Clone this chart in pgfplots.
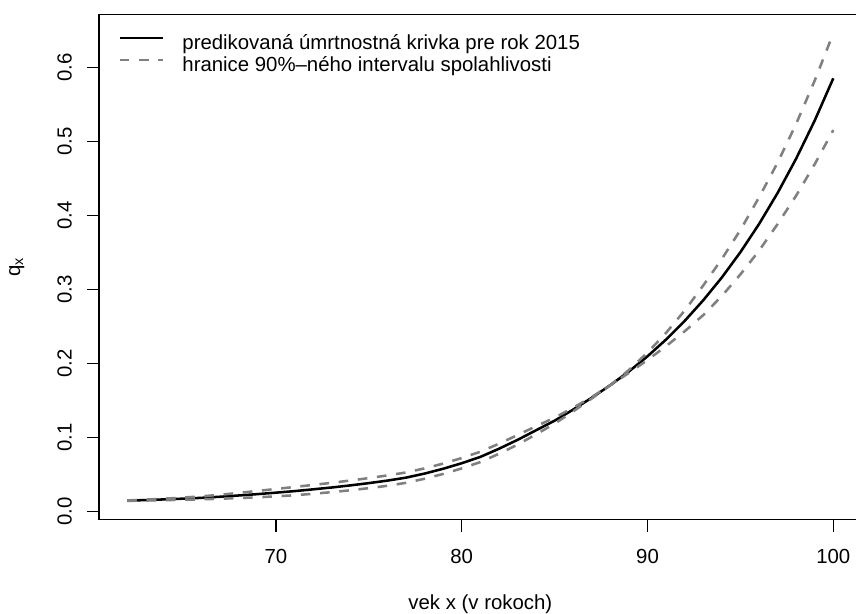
\documentclass[border=0pt]{standalone}
\usepackage{fontspec}
\setmainfont{Liberation Sans}
\usepackage{pgfplots}
\usepackage{pgfplotstable}
\pgfplotsset{compat=1.18}

\pgfplotstableread{
age q up lo
62 0.0149 0.0152 0.0146
63 0.0157 0.0163 0.0151
64 0.0166 0.0176 0.0156
65 0.0176 0.0191 0.0161
66 0.0187 0.0207 0.0167
67 0.0202 0.0229 0.0175
68 0.0219 0.0254 0.0184
69 0.0237 0.0280 0.0194
70 0.0257 0.0307 0.0207
71 0.0278 0.0334 0.0222
72 0.0302 0.0362 0.0242
73 0.0327 0.0390 0.0264
74 0.0355 0.0421 0.0289
75 0.0386 0.0454 0.0318
76 0.0420 0.0490 0.0350
77 0.0460 0.0530 0.0390
78 0.0515 0.0585 0.0445
79 0.0580 0.0650 0.0510
80 0.0655 0.0725 0.0585
81 0.0740 0.0810 0.0670
82 0.0850 0.0918 0.0782
83 0.0970 0.1035 0.0905
84 0.1100 0.1155 0.1045
85 0.1230 0.1270 0.1190
86 0.1380 0.1405 0.1355
87 0.1540 0.1550 0.1530
88 0.1710 0.1710 0.1710
89 0.1895 0.1915 0.1875
90 0.2100 0.2150 0.2050
91 0.2327 0.2417 0.2237
92 0.2578 0.2718 0.2438
93 0.2857 0.3057 0.2657
94 0.3165 0.3415 0.2915
95 0.3507 0.3807 0.3207
96 0.3886 0.4246 0.3526
97 0.4306 0.4716 0.3886
98 0.4771 0.5241 0.4271
99 0.5286 0.5826 0.4696
100 0.5857 0.6465 0.5157
}\qdata

\begin{document}
\begin{tikzpicture}[font=\fontsize{12.04pt}{14.4pt}\selectfont]
\begin{axis}[
  at={(0,0)}, anchor=south west,
  width=450.6pt, height=298.5pt, scale only axis,
  xmin=60.48, xmax=101.52, ymin=-0.0108, ymax=0.6718,
  xtick={70,80,90,100},
  ytick={0,0.1,0.2,0.3,0.4,0.5,0.6},
  tick pos=left, tick align=outside,
  major tick length=7.2pt,
  major tick style={black, line width=0.75pt},
  axis line style={black, line width=0.75pt},
  /pgf/number format/assume math mode=true,
  xticklabel style={anchor=base, yshift=-19.0pt},
  yticklabel style={rotate=90, anchor=base, yshift=9.0pt,
    /pgf/number format/.cd, fixed, fixed zerofill, precision=1},
  scaled y ticks=false,
  xlabel={vek x (v rokoch)},
  ylabel={q\textsubscript{x}},
  every axis x label/.style={at={(axis description cs:0.5,-0.1788)}, anchor=base},
  every axis y label/.style={at={(axis description cs:-0.1037,0.5)}, rotate=90, anchor=base},
  legend cell align=left,
  legend style={draw=none, fill=none, at={(axis description cs:0.0252,0.962)},
    anchor=north west, inner sep=0pt, outer sep=0pt,
    nodes={inner sep=0pt, text height=9pt, text depth=3pt},
    row sep=1pt, column sep=10.8pt},
  legend image code/.code={\draw[#1] (0pt,3.6pt) -- (25.6pt,3.6pt);},
]
\addplot[black, line width=1.5pt] table[x=age, y=q]{\qdata};
\addlegendentry{predikovaná úmrtnostná krivka pre rok 2015}
\addplot[gray, line width=1.5pt, dash pattern=on 5.7pt off 5.7pt] table[x=age, y=up]{\qdata};
\addlegendentry{hranice 90\%–ného intervalu spolahlivosti}
\addplot[gray, line width=1.5pt, dash pattern=on 5.7pt off 5.7pt, forget plot] table[x=age, y=lo]{\qdata};
\end{axis}
\pgfresetboundingbox
\path[use as bounding box] (-58.57pt,-55.73pt) rectangle (447.33pt,307.13pt);
\end{tikzpicture}
\end{document}
